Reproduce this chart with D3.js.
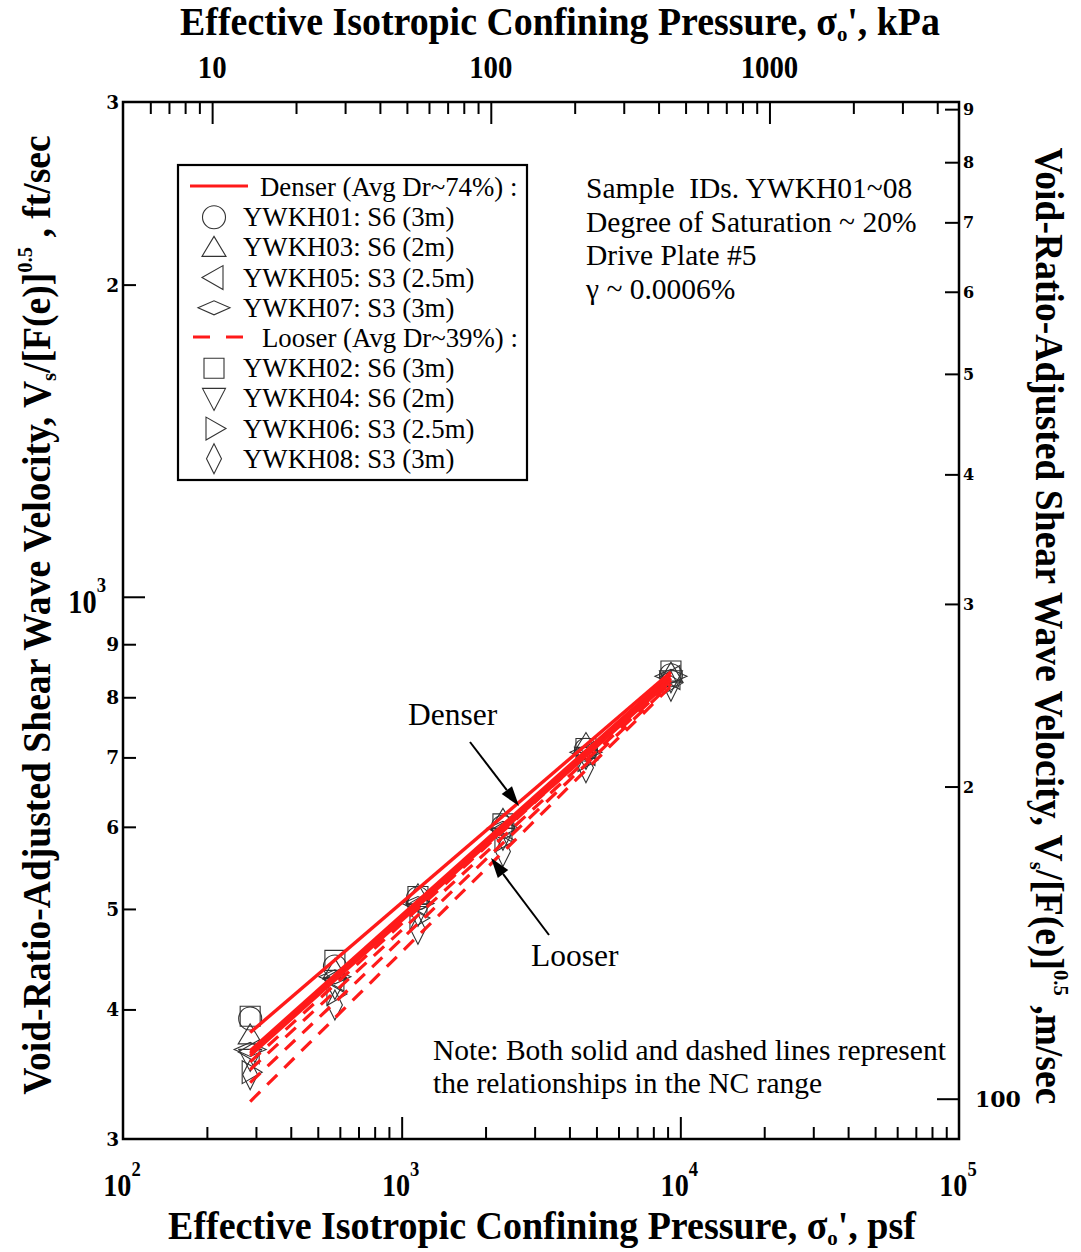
<!DOCTYPE html>
<html>
<head>
<meta charset="utf-8">
<script src="https://cdn.jsdelivr.net/npm/d3@7"></script>
<style>
  body { margin: 0; background: #fff; }
  svg { display: block; }
</style>
</head>
<body>
<svg id="chart" width="1081" height="1252"></svg>
<script>
// ---------------- data ----------------
// Effective isotropic confining pressure steps (psf)
const pressurePsf = [286, 576, 1144, 2309, 4585, 9254];

// Samples in legend order
const sampleIds = ["YWKH01", "YWKH03", "YWKH05", "YWKH07", "YWKH02", "YWKH04", "YWKH06", "YWKH08"];
const sampleLabels = ["YWKH01: S6 (3m)", "YWKH03: S6 (2m)", "YWKH05: S3 (2.5m)", "YWKH07: S3 (3m)",
                      "YWKH02: S6 (3m)", "YWKH04: S6 (2m)", "YWKH06: S3 (2.5m)", "YWKH08: S3 (3m)"];
const sampleShapes = ["circle", "triUp", "triLeft", "diamondWide", "square", "triDown", "triRight", "diamondTall"];

// Void-ratio-adjusted shear wave velocity, ft/sec, one array per sample
const vsYWKH01 = [392, 440, 512, 600, 712, 840];
const vsYWKH03 = [378, 437, 516, 610, 722, 844];
const vsYWKH05 = [364, 428, 504, 596, 706, 836];
const vsYWKH07 = [366, 430, 506, 598, 708, 838];
const vsYWKH02 = [394, 446, 514, 604, 714, 848];
const vsYWKH04 = [358, 420, 494, 585, 700, 830];
const vsYWKH06 = [348, 414, 490, 582, 696, 826];
const vsYWKH08 = [346, 404, 478, 568, 684, 820];
const sampleValues = [vsYWKH01, vsYWKH03, vsYWKH05, vsYWKH07, vsYWKH02, vsYWKH04, vsYWKH06, vsYWKH08];

// NC-range power-law relationships: velocity at the first and last pressure step
const fitPressure = [286, 9254];
const denserFitStart = [380, 365, 363, 361];
const denserFitEnd   = [846, 841, 835, 831];
const looserFitStart = [356, 350, 340, 326];
const looserFitEnd   = [835, 827, 824, 820];

// Axis ticks
const bottomMajor = [1e3, 1e4];
const bottomMinor = [2,3,4,5,6,7,8,9].flatMap(d => [d * 1e2, d * 1e3, d * 1e4]);
const bottomLabelExp = [2, 3, 4, 5];
const topMajor = [10, 100, 1000];
const topMinor = [6, 7, 8, 9, 20, 30, 40, 50, 60, 70, 80, 90,
                  200, 300, 400, 500, 600, 700, 800, 900, 2000, 3000, 4000];
const topLabels = ["10", "100", "1000"];
const leftMajor = [1000];
const leftMinor = [400, 500, 600, 700, 800, 900, 2000];
const leftDigitTicks = [300, 400, 500, 600, 700, 800, 900, 2000, 3000];
const leftDigitLabels = ["3", "4", "5", "6", "7", "8", "9", "2", "3"];
const rightMajor = [100];
const rightMinor = [200, 300, 400, 500, 600, 700, 800, 900];
const rightDigitLabels = ["2", "3", "4", "5", "6", "7", "8", "9"];

// ---------------- layout ----------------
const svg = d3.select("#chart");
const plot = { left: 123, right: 959, top: 102, bottom: 1139 };
const PSF_PER_KPA = 20.885;
const FT_PER_M = 3.2808;
const SERIF = "'Liberation Serif', 'Times New Roman', serif";
const HEAVY = "'DejaVu Serif', serif";
const RED = "#ff1a1a";

const x = d3.scaleLog().domain([1e2, 1e5]).range([plot.left, plot.right]);
const y = d3.scaleLog().domain([300, 3000]).range([plot.bottom, plot.top]);
const xTop = d3.scaleLog().domain([1e2 / PSF_PER_KPA, 1e5 / PSF_PER_KPA]).range([plot.left, plot.right]);
const yRight = d3.scaleLog().domain([300 / FT_PER_M, 3000 / FT_PER_M]).range([plot.bottom, plot.top]);

// ---------------- axes (ticks inward) ----------------
function tickAxis(axisFn, scale, values, size, transform) {
  const g = svg.append("g").attr("transform", transform)
    .call(axisFn(scale).tickValues(values).tickSize(-size).tickFormat(""));
  g.select(".domain").remove();
  g.selectAll(".tick line").attr("stroke", "#000").attr("stroke-width", 2);
  return g;
}
tickAxis(d3.axisBottom, x, bottomMinor, 12, `translate(0,${plot.bottom})`);
tickAxis(d3.axisBottom, x, bottomMajor, 22, `translate(0,${plot.bottom})`);
tickAxis(d3.axisTop, xTop, topMinor, 12, `translate(0,${plot.top})`);
tickAxis(d3.axisTop, xTop, topMajor, 22, `translate(0,${plot.top})`);
tickAxis(d3.axisLeft, y, leftMinor, 13, `translate(${plot.left},0)`);
tickAxis(d3.axisLeft, y, leftMajor, 22, `translate(${plot.left},0)`);
tickAxis(d3.axisRight, yRight, rightMinor, 14, `translate(${plot.right},0)`);
tickAxis(d3.axisRight, yRight, rightMajor, 22, `translate(${plot.right},0)`);

svg.append("rect")
  .attr("x", plot.left).attr("y", plot.top)
  .attr("width", plot.right - plot.left).attr("height", plot.bottom - plot.top)
  .attr("fill", "none").attr("stroke", "#000").attr("stroke-width", 2.5);

// Condensed bold label: "10" with optional exponent, narrowed horizontally
function condensedLabel(cx, baseline, anchor, main, sup, size, squeeze) {
  const g = svg.append("g").attr("transform", `translate(${cx},${baseline}) scale(${squeeze},1)`);
  const t = g.append("text").attr("x", 0).attr("y", 0).attr("text-anchor", anchor)
    .attr("font-family", SERIF).attr("font-weight", "bold").attr("font-size", size);
  t.append("tspan").text(main);
  if (sup) t.append("tspan").attr("dy", -size * 0.62).attr("font-size", size * 0.66).text(sup);
}

// ---------------- tick labels ----------------
bottomLabelExp.forEach(e => condensedLabel(x(Math.pow(10, e)) - 1, 1196, "middle", "10", String(e), 32, 0.88));
topMajor.forEach((v, i) => condensedLabel(xTop(v), 78, "middle", topLabels[i], null, 32, 0.9));
condensedLabel(106, y(1000) + 16, "end", "10", "3", 33, 0.86);

leftDigitTicks.forEach((v, i) => {
  svg.append("text")
    .attr("x", 119).attr("y", y(v) + 7)
    .attr("text-anchor", "end")
    .attr("font-family", HEAVY).attr("font-weight", "bold").attr("font-size", 18.5)
    .text(leftDigitLabels[i]);
});
rightMinor.forEach((v, i) => {
  svg.append("text")
    .attr("x", 963).attr("y", yRight(v) + 6)
    .attr("font-family", HEAVY).attr("font-weight", "bold").attr("font-size", 16)
    .text(rightDigitLabels[i]);
});
svg.append("text")
  .attr("x", 975).attr("y", yRight(100) + 8)
  .attr("font-family", HEAVY).attr("font-weight", "bold").attr("font-size", 22)
  .text("100");

// ---------------- axis titles ----------------
// Builds a bold title in a group, then squeezes it horizontally to the given length.
function title(transform, length, parts, size) {
  const g = svg.append("g").attr("transform", transform);
  const inner = g.append("g");
  const t = inner.append("text")
    .attr("x", 0).attr("y", 0).attr("text-anchor", "middle")
    .attr("font-family", SERIF).attr("font-weight", "bold").attr("font-size", size);
  let shift = 0;
  parts.forEach(p => {
    const span = t.append("tspan").text(p.text);
    const target = p.sub ? size * 0.16 : p.sup ? -size * 0.45 : 0;
    if (target !== shift) span.attr("dy", target - shift);
    shift = target;
    if (p.sub || p.sup) span.attr("font-size", size * 0.55);
  });
  const w = t.node().getBBox().width;
  inner.attr("transform", `scale(${length / w},1)`);
}
title("translate(560,35)", 760, [
  { text: "Effective Isotropic Confining Pressure, σ" }, { text: "o", sub: true }, { text: "', kPa" }
], 40);
title("translate(542,1239)", 749, [
  { text: "Effective Isotropic Confining Pressure, σ" }, { text: "o", sub: true }, { text: "', psf" }
], 39);
title("translate(50,615) rotate(-90)", 960, [
  { text: "Void-Ratio-Adjusted Shear Wave Velocity, V" }, { text: "s", sub: true },
  { text: "/[F(e)]" }, { text: "0.5", sup: true }, { text: " , ft/sec" }
], 40);
title("translate(1036,626) rotate(90)", 957, [
  { text: "Void-Ratio-Adjusted Shear Wave Velocity, V" }, { text: "s", sub: true },
  { text: "/[F(e)]" }, { text: "0.5", sup: true }, { text: " ,m/sec" }
], 40);

// ---------------- markers ----------------
const shapePaths = {
  circle: "M11.5,0A11.5,11.5 0 1,1 -11.5,0A11.5,11.5 0 1,1 11.5,0Z",
  square: "M-10,-10H10V10H-10Z",
  triUp: "M0,-11L12,9L-12,9Z",
  triDown: "M0,12L11.5,-10L-11.5,-10Z",
  triLeft: "M-12,0L9,-12L9,12Z",
  triRight: "M12,0L-8,-11.5L-8,11.5Z",
  diamondWide: "M-16,0L0,-7L16,0L0,7Z",
  diamondTall: "M0,-15L7.5,0L0,15L-7.5,0Z"
};
const markerStroke = "#333";

const markerLayer = svg.append("g");
sampleValues.forEach((vals, i) => {
  markerLayer.append("g").attr("class", sampleIds[i])
    .selectAll("path").data(vals).join("path")
    .attr("transform", (d, j) => `translate(${x(pressurePsf[j])},${y(d)})`)
    .attr("d", shapePaths[sampleShapes[i]])
    .attr("fill", "none").attr("stroke", markerStroke).attr("stroke-width", 1.1);
});

// ---------------- NC-range relationships ----------------
const line = d3.line().x(d => x(d[0])).y(d => y(d[1]));
const lineLayer = svg.append("g");
looserFitStart.forEach((v, i) => {
  lineLayer.append("path")
    .attr("d", line([[fitPressure[0], v], [fitPressure[1], looserFitEnd[i]]]))
    .attr("fill", "none").attr("stroke", RED).attr("stroke-width", 3.2)
    .attr("stroke-dasharray", "14,10");
});
denserFitStart.forEach((v, i) => {
  lineLayer.append("path")
    .attr("d", line([[fitPressure[0], v], [fitPressure[1], denserFitEnd[i]]]))
    .attr("fill", "none").attr("stroke", RED).attr("stroke-width", 3.4);
});

// ---------------- legend ----------------
const legend = svg.append("g");
legend.append("rect")
  .attr("x", 178).attr("y", 165).attr("width", 349).attr("height", 315)
  .attr("fill", "#fff").attr("stroke", "#000").attr("stroke-width", 2.2);
const rowY = i => 187 + i * 30.2;
function legendText(xPos, row, str) {
  legend.append("text")
    .attr("x", xPos).attr("y", rowY(row) + 9)
    .attr("font-family", SERIF).attr("font-size", 26.8)
    .text(str);
}
legend.append("line").attr("x1", 190).attr("x2", 248).attr("y1", rowY(0) - 1).attr("y2", rowY(0) - 1)
  .attr("stroke", RED).attr("stroke-width", 3);
legendText(260, 0, "Denser (Avg Dr~74%) :");
legend.append("line").attr("x1", 193).attr("x2", 245).attr("y1", rowY(5) - 1).attr("y2", rowY(5) - 1)
  .attr("stroke", RED).attr("stroke-width", 3).attr("stroke-dasharray", "17,16");
legendText(262, 5, "Looser (Avg Dr~39%) :");
sampleIds.forEach((id, i) => {
  const row = i < 4 ? i + 1 : i + 2;
  legend.append("path")
    .attr("transform", `translate(214,${rowY(row)})`)
    .attr("d", shapePaths[sampleShapes[i]])
    .attr("fill", "none").attr("stroke", markerStroke).attr("stroke-width", 1.1);
  legendText(243, row, sampleLabels[i]);
});

// ---------------- notes ----------------
const infoLines = ["Sample  IDs. YWKH01~08", "Degree of Saturation ~ 20%", "Drive Plate #5", "γ ~ 0.0006%"];
infoLines.forEach((s, i) => {
  svg.append("text")
    .attr("x", 586).attr("y", 198 + i * 33.5)
    .attr("font-family", SERIF).attr("font-size", 29.5)
    .style("white-space", "pre")
    .text(s);
});
["Note: Both solid and dashed lines represent", "the relationships in the NC range"].forEach((s, i) => {
  svg.append("text")
    .attr("x", 433).attr("y", 1060 + i * 33)
    .attr("font-family", SERIF).attr("font-size", 29.5)
    .text(s);
});

// ---------------- arrows ----------------
function arrow(x1, y1, x2, y2) {
  const ang = Math.atan2(y2 - y1, x2 - x1);
  const L = 20, Wd = 6.5;
  const bx = x2 - L * Math.cos(ang), by = y2 - L * Math.sin(ang);
  svg.append("line").attr("x1", x1).attr("y1", y1).attr("x2", bx).attr("y2", by)
    .attr("stroke", "#000").attr("stroke-width", 2);
  const px = -Math.sin(ang) * Wd, py = Math.cos(ang) * Wd;
  svg.append("path")
    .attr("d", `M${x2},${y2}L${bx + px},${by + py}L${bx - px},${by - py}Z`)
    .attr("fill", "#000");
}
svg.append("text").attr("x", 408).attr("y", 725)
  .attr("font-family", SERIF).attr("font-size", 31.5).text("Denser");
arrow(470, 742, 519, 806);
svg.append("text").attr("x", 531).attr("y", 966)
  .attr("font-family", SERIF).attr("font-size", 31.5).text("Looser");
arrow(549, 935, 491, 858);
</script>
</body>
</html>
